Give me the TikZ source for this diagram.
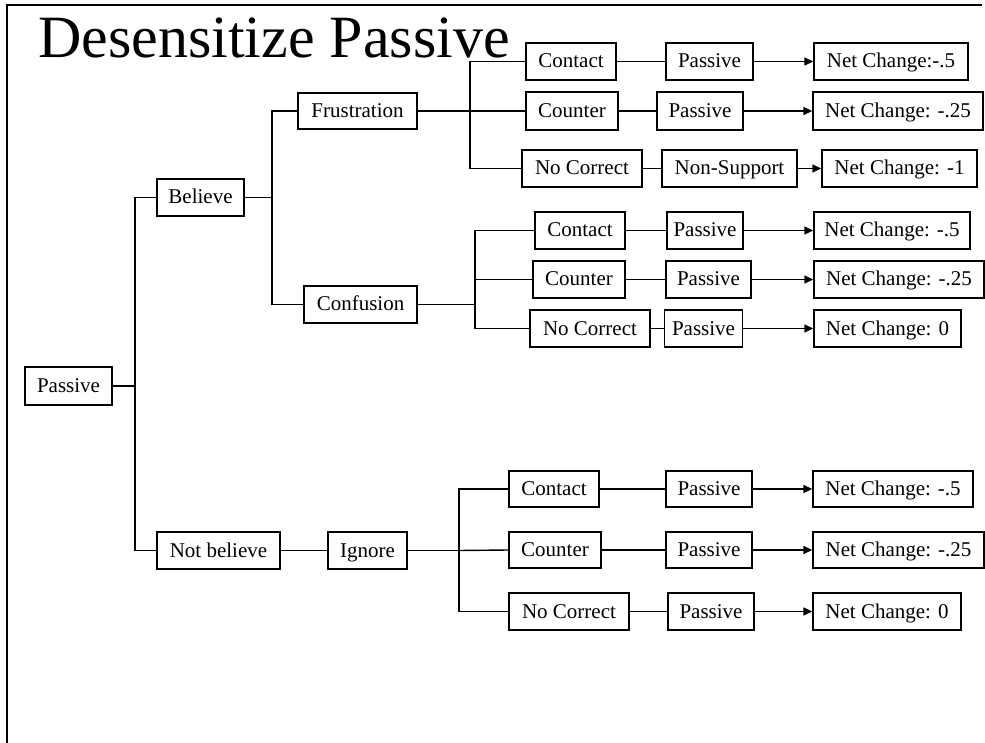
\documentclass[tikz,border=0pt]{standalone}
\usepackage{fontspec}
\setmainfont{Liberation Serif}
\usetikzlibrary{arrows.meta}

\begin{document}
\begin{tikzpicture}[x=1pt,y=-1pt,
  box/.style={draw, line width=1.4pt, inner sep=0pt, minimum height=37pt,
    text height=16pt, text depth=3pt,
    font=\fontsize{21}{25}\selectfont},
  link/.style={line width=1.4pt},
  res/.style={link, -{Triangle[length=9pt,width=8pt]}},
  frameline/.style={line width=2.8pt}]
\useasboundingbox (0,0) rectangle (985,743);

% page frame
\draw[frameline] (7,743) -- (7,5) -- (982,5);

% title
\node[anchor=base west, inner sep=0pt, font=\fontsize{60}{62}\selectfont]
  (title) at (38,58) {Desensitize Passive};

% main tree
\node[box, minimum width=87pt, minimum height=38pt] (root) at (68.5,386) {Passive};
\node[box, minimum width=87pt] (bel) at (200.5,197.5) {Believe};
\node[box, minimum width=123pt] (nbel) at (218.5,550.5) {Not believe};
\node[box, minimum width=119pt, minimum height=36pt] (fru) at (357.5,111) {Frustration};
\node[box, minimum width=113pt] (con) at (360.5,304.5) {Confusion};
\node[box, minimum width=79pt] (ign) at (367.5,550.5) {Ignore};

% frustration branch
\node[box, minimum width=90pt] (fa) at (571,61.5) {Contact};
\node[box, minimum width=92pt, minimum height=38pt] (fb) at (572,111) {Counter};
\node[box, minimum width=120pt] (fc) at (582,168.5) {No Correct};
\node[box, minimum width=87pt] (fa2) at (709.5,61.5) {Passive};
\node[box, minimum width=86pt, minimum height=38pt] (fb2) at (700,111) {Passive};
\node[box, minimum width=135pt] (fc2) at (729.5,168.5) {Non-Support};
\node[box, minimum width=154pt] (fa3) at (891,61.5) {Net Change:-.5};
\node[box, minimum width=170pt, minimum height=38pt] (fb3) at (898,111) {Net Change: -.25};
\node[box, minimum width=155pt] (fc3) at (899.5,168.5) {Net Change: -1};

% confusion branch
\node[box, minimum width=90pt] (ca) at (580,230.5) {Contact};
\node[box, minimum width=92pt] (cb) at (579,279.5) {Counter};
\node[box, minimum width=120pt] (cc) at (590,328.5) {No Correct};
\node[box, minimum width=76pt] (ca2) at (705,230.5) {Passive};
\node[box, minimum width=85pt] (cb2) at (708.5,279.5) {Passive};
\node[box, minimum width=78pt] (cc2) at (703.5,328.5) {Passive};
\node[box, minimum width=156pt] (ca3) at (892,230.5) {Net Change: -.5};
\node[box, minimum width=170pt] (cb3) at (899,279.5) {Net Change: -.25};
\node[box, minimum width=147pt] (cc3) at (887.5,328.5) {Net Change: 0};

% ignore branch
\node[box, minimum width=90pt, minimum height=36pt] (ia) at (554,489) {Contact};
\node[box, minimum width=92pt, minimum height=36pt] (ib) at (555,550) {Counter};
\node[box, minimum width=120pt] (ic) at (569,611.5) {No Correct};
\node[box, minimum width=86pt, minimum height=36pt] (ia2) at (709,489) {Passive};
\node[box, minimum width=86pt, minimum height=36pt] (ib2) at (709,550) {Passive};
\node[box, minimum width=86pt] (ic2) at (711,611.5) {Passive};
\node[box, minimum width=160pt, minimum height=36pt] (ia3) at (893,489) {Net Change: -.5};
\node[box, minimum width=171pt, minimum height=36pt] (ib3) at (898.5,550) {Net Change: -.25};
\node[box, minimum width=148pt] (ic3) at (887,611.5) {Net Change: 0};

% junction points of the tree
\coordinate (j0) at (135,386);
\coordinate (j1) at (272,197.5);
\coordinate (j2) at (470,111);
\coordinate (j3) at (475,304.5);
\coordinate (j4) at (459,550.5);

% tree connectors
\draw[link] (root.east) -- (j0);
\draw[link] (bel.west) -| (j0) |- (nbel.west);
\draw[link] (bel.east) -- (j1);
\draw[link] (fru.west) -| (j1) |- (con.west);
\draw[link] (fru.east) -- (j2);
\draw[link] (fa.west) -| (j2) |- (fc.west);
\draw[link] (j2) -- (fb.west);
\draw[link] (con.east) -- (j3);
\draw[link] (ca.west) -| (j3) |- (cc.west);
\draw[link] (cb.west) -- (cb.west -| j3);
\draw[link] (nbel.east) -- (ign.west);
\draw[link] (ign.east) -- (j4);
\draw[link] (ia.west) -| (j4) |- (ic.west);
\draw[link] (j4) -- (ib.west);

% rows leading to the outcomes
\draw[link] (fa) -- (fa2);  \draw[res] (fa2) -- (fa3);
\draw[link] (fb) -- (fb2);  \draw[res] (fb2) -- (fb3);
\draw[link] (fc) -- (fc2);  \draw[res] (fc2) -- (fc3);
\draw[link] (ca) -- (ca2);  \draw[res] (ca2) -- (ca3);
\draw[link] (cb) -- (cb2);  \draw[res] (cb2) -- (cb3);
\draw[link] (cc) -- (cc2);  \draw[res] (cc2) -- (cc3);
\draw[link] (ia) -- (ia2);  \draw[res] (ia2) -- (ia3);
\draw[link] (ib) -- (ib2);  \draw[res] (ib2) -- (ib3);
\draw[link] (ic) -- (ic2);  \draw[res] (ic2) -- (ic3);
\end{tikzpicture}
\end{document}
